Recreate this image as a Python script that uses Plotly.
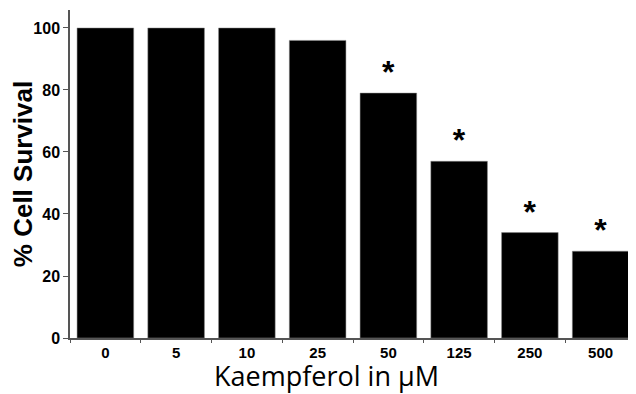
import plotly.graph_objects as go

categories = ["0", "5", "10", "25", "50", "125", "250", "500"]
survival = [100, 100, 100, 96, 79, 57, 34, 28]
significance = ["", "", "", "", "*", "*", "*", "*"]
y_ticks = [0, 20, 40, 60, 80, 100]

fig = go.Figure()
fig.add_trace(go.Bar(
    x=categories, y=survival,
    marker=dict(color="black", line=dict(color="#888888", width=0.5)),
    width=0.8,
    text=significance, textposition="outside",
    textfont=dict(family="Liberation Sans", size=32, color="black", weight="bold"),
    cliponaxis=False,
))

# page body has an 8px default margin; size the figure to fit the 636x394 window
fig.update_layout(
    width=628, height=386,
    margin=dict(l=62, r=0, t=2, b=56),
    plot_bgcolor="white", paper_bgcolor="white",
    showlegend=False,
    bargap=0.2,
)
fig.add_annotation(
    text="Kaempferol in μM", xref="paper", yref="paper", x=0.454, y=0,
    xanchor="center", yanchor="bottom", yshift=-57, borderpad=0, showarrow=False,
    font=dict(family="Open Sans", size=27, color="black"),
)
fig.update_xaxes(
    type="category", tickson="boundaries", automargin=False,
    ticks="outside", ticklen=3, tickcolor="#555555",
    showline=True, linecolor="#555555", linewidth=1.5,
    tickfont=dict(family="Liberation Sans", size=15, color="black", weight="bold"),
    showgrid=False,
)
fig.update_yaxes(
    range=[0, 105.8], tickvals=y_ticks, automargin=False,
    ticks="outside", ticklen=5, tickcolor="#555555",
    showline=True, linecolor="#555555", linewidth=1.5,
    tickfont=dict(family="Liberation Sans", size=16, color="black", weight="bold"),
    title=dict(text="% Cell Survival", font=dict(family="Liberation Sans", size=26, color="black", weight="bold"), standoff=0),
    showgrid=False, zeroline=False,
)

fig.write_html("out.html")
